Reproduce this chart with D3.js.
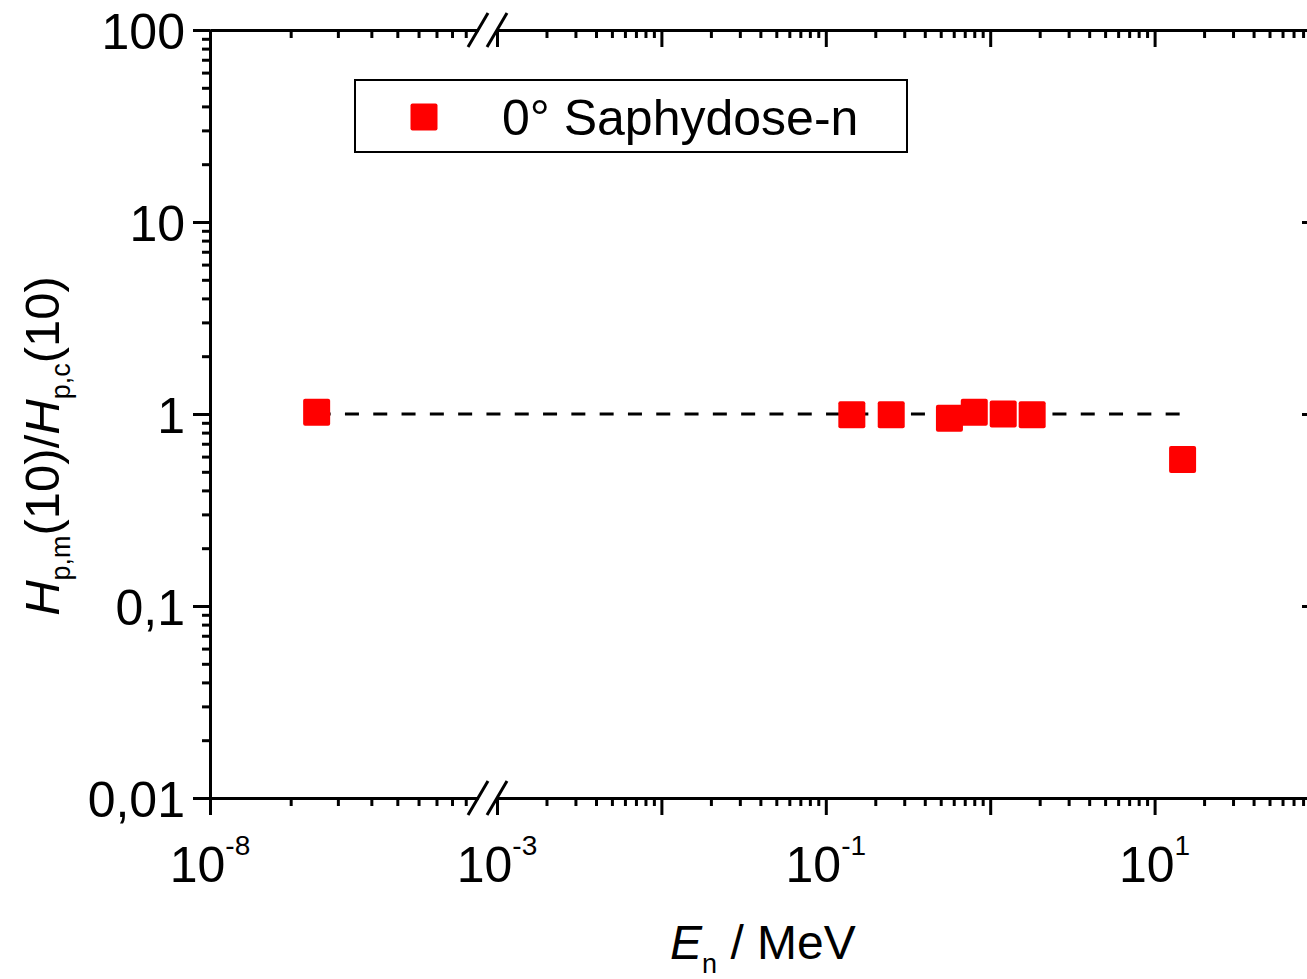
<!DOCTYPE html>
<html>
<head>
<meta charset="utf-8">
<script src="https://cdn.jsdelivr.net/npm/d3@7"></script>
<style>
  html, body { margin: 0; padding: 0; background: #fff; overflow: hidden; }
  svg { display: block; }
  text { font-family: "Liberation Sans", Arial, Helvetica, sans-serif; fill: #000; }
</style>
</head>
<body>
<svg id="chart" width="1307" height="979"></svg>
<script>
// Measured neutron energies (MeV) and dose-equivalent ratio H_p,m(10)/H_p,c(10)
const energies = [2.5e-8, 0.144, 0.25, 0.565, 0.8, 1.2, 1.8, 14.8];
const ratios   = [1.02, 0.99, 0.99, 0.95, 1.02, 1.00, 0.99, 0.58];

const seriesName = "0° Saphydose-n";

// Tick definitions
const yMajorTicks = [0.01, 0.1, 1, 10, 100];
const yTickLabels = ["0,01", "0,1", "1", "10", "100"];
const xLowMajor   = [1e-8];
const xLowLabels  = ["-8"];
const xHighMajor  = [1e-3, 1e-2, 1e-1, 1e0, 1e1, 1e2];
const xHighLabels = ["-3", "", "-1", "", "1", ""];

const svg = d3.select("#chart");

const plotLeft = 210, plotRight = 1319, plotTop = 30, plotBottom = 798;
const breakLo = 478, breakHi = 497;

// Broken log axis: thermal segment and fast segment
const xLow  = d3.scaleLog().domain([1e-8, 1e-7]).range([plotLeft, breakLo]);
const xHigh = d3.scaleLog().domain([1e-3, 1e2]).range([breakHi, plotRight]);
const xPos = e => (e < 1e-5 ? xLow(e) : xHigh(e));

const y = d3.scaleLog().domain([0.01, 100]).range([plotBottom, plotTop]);

function minorTicks(domain) {
  const out = [];
  const lo = Math.round(Math.log10(domain[0])), hi = Math.round(Math.log10(domain[1]));
  for (let p = lo; p < hi; p++) for (let m = 2; m <= 9; m++) out.push(m * Math.pow(10, p));
  return out;
}

const axisStroke = 3;
function styleAxis(g) {
  g.selectAll("path.domain").attr("stroke", "#000").attr("stroke-width", axisStroke);
  g.selectAll(".tick line").attr("stroke", "#000").attr("stroke-width", axisStroke);
  g.selectAll("text").remove();
}

// ---------- X axes (bottom: outward ticks, top: inward ticks) ----------
[[xLow, xLowMajor], [xHigh, xHighMajor]].forEach(([sc, majors]) => {
  const minors = minorTicks(sc.domain());
  const gb = svg.append("g").attr("transform", `translate(0,${plotBottom})`)
    .call(d3.axisBottom(sc).tickValues(majors).tickSize(17).tickSizeOuter(0).tickFormat(""));
  styleAxis(gb);
  const gbm = svg.append("g").attr("transform", `translate(0,${plotBottom})`)
    .call(d3.axisBottom(sc).tickValues(minors).tickSize(8).tickSizeOuter(0).tickFormat(""));
  styleAxis(gbm);
  const gt = svg.append("g").attr("transform", `translate(0,${plotTop})`)
    .call(d3.axisTop(sc).tickValues(majors).tickSize(-17).tickSizeOuter(0).tickFormat(""));
  styleAxis(gt);
  const gtm = svg.append("g").attr("transform", `translate(0,${plotTop})`)
    .call(d3.axisTop(sc).tickValues(minors).tickSize(-8).tickSizeOuter(0).tickFormat(""));
  styleAxis(gtm);
});

// Break marks on top and bottom axes
[plotTop, plotBottom].forEach(yy => {
  [breakLo, breakHi].forEach(xx => {
    svg.append("line")
      .attr("x1", xx - 10).attr("y1", yy + 17)
      .attr("x2", xx + 10).attr("y2", yy - 17)
      .attr("stroke", "#000").attr("stroke-width", 3);
  });
});

// X tick labels: 10 with superscript exponent
function xLabel(sc, vals, exps) {
  vals.forEach((v, i) => {
    if (!exps[i]) return;
    const t = svg.append("text")
      .attr("x", sc(v)).attr("y", 882)
      .attr("text-anchor", "middle")
      .attr("font-size", 50);
    t.append("tspan").text("10");
    t.append("tspan").attr("font-size", 28).attr("dy", -27).text(exps[i]);
  });
}
xLabel(xLow, xLowMajor, xLowLabels);
xLabel(xHigh, xHighMajor, xHighLabels);

// ---------- Y axes (left: outward ticks, right: inward ticks) ----------
const yMinor = minorTicks(y.domain());
const gl = svg.append("g").attr("transform", `translate(${plotLeft},0)`)
  .call(d3.axisLeft(y).tickValues(yMajorTicks).tickSize(17).tickSizeOuter(0).tickPadding(8)
    .tickFormat((d, i) => yTickLabels[i]));
gl.selectAll("path.domain").attr("stroke", "#000").attr("stroke-width", axisStroke);
gl.selectAll(".tick line").attr("stroke", "#000").attr("stroke-width", axisStroke);
gl.selectAll("text")
  .attr("font-size", 50)
  .attr("font-family", "Liberation Sans, Arial, sans-serif")
  .attr("fill", "#000")
  .attr("dy", "0.36em");
const glm = svg.append("g").attr("transform", `translate(${plotLeft},0)`)
  .call(d3.axisLeft(y).tickValues(yMinor).tickSize(8).tickSizeOuter(0).tickFormat(""));
styleAxis(glm);

const gr = svg.append("g").attr("transform", `translate(${plotRight},0)`)
  .call(d3.axisRight(y).tickValues(yMajorTicks).tickSize(-17).tickSizeOuter(0).tickFormat(""));
styleAxis(gr);
const grm = svg.append("g").attr("transform", `translate(${plotRight},0)`)
  .call(d3.axisRight(y).tickValues(yMinor).tickSize(-8).tickSizeOuter(0).tickFormat(""));
styleAxis(grm);

// ---------- Reference line at ratio 1 ----------
svg.append("line")
  .attr("x1", xPos(energies[0])).attr("x2", xPos(energies[energies.length - 1]))
  .attr("y1", y(1)).attr("y2", y(1))
  .attr("stroke", "#000").attr("stroke-width", 3)
  .attr("stroke-dasharray", "14,14.3");

// ---------- Data points ----------
const sq = 27;
svg.append("g").selectAll("rect")
  .data(energies.map((e, i) => ({ e, r: ratios[i] })))
  .join("rect")
  .attr("x", d => xPos(d.e) - sq / 2)
  .attr("y", d => y(d.r) - sq / 2)
  .attr("width", sq).attr("height", sq)
  .attr("rx", 2).attr("ry", 2)
  .attr("fill", "#ff0000");

// ---------- Legend ----------
const lg = svg.append("g");
lg.append("rect")
  .attr("x", 355).attr("y", 80).attr("width", 552).attr("height", 72)
  .attr("fill", "#fff").attr("stroke", "#000").attr("stroke-width", 2);
lg.append("rect")
  .attr("x", 424 - sq / 2).attr("y", 117 - sq / 2).attr("width", sq).attr("height", sq)
  .attr("rx", 2).attr("ry", 2).attr("fill", "#ff0000");
lg.append("text")
  .attr("x", 502).attr("y", 135)
  .attr("font-size", 50)
  .text(seriesName);

// ---------- Axis titles ----------
const xt = svg.append("text").attr("x", 670).attr("y", 959).attr("font-size", 48);
xt.append("tspan").attr("font-style", "italic").text("E");
xt.append("tspan").attr("font-size", 27).attr("dy", 14).text("n");
xt.append("tspan").attr("dy", -14).text(" / MeV");

const yt = svg.append("text")
  .attr("transform", "translate(59,446) rotate(-90)")
  .attr("text-anchor", "middle")
  .attr("font-size", 49);
yt.append("tspan").attr("font-style", "italic").text("H");
yt.append("tspan").attr("font-size", 27).attr("dy", 11).text("p,m");
yt.append("tspan").attr("dy", -11).text("(10)/");
yt.append("tspan").attr("font-style", "italic").text("H");
yt.append("tspan").attr("font-size", 27).attr("dy", 11).text("p,c");
yt.append("tspan").attr("dy", -11).text("(10)");
</script>
</body>
</html>
